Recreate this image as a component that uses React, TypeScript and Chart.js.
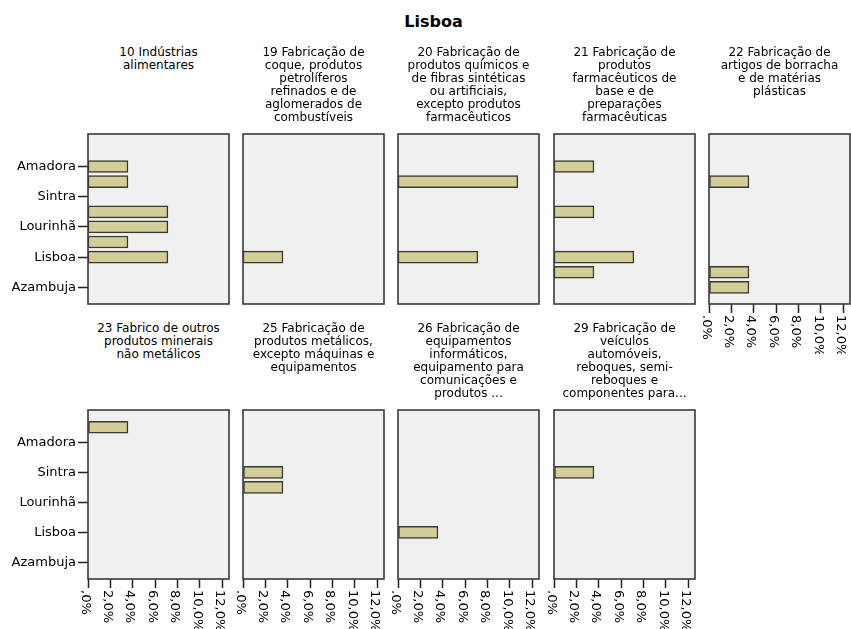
import React, { useEffect, useRef } from 'react';
import { Chart, registerables } from 'chart.js';

Chart.register(...registerables);

// ---------------- data ----------------
const MAIN_TITLE = 'Lisboa';

// municipalities on the vertical axis, listed top to bottom
const CONCELHOS = [
  'Odivelas',
  'Amadora',
  'Vila Franca de Xira',
  'Sintra',
  'Oeiras',
  'Lourinhã',
  'Loures',
  'Lisboa',
  'Cascais',
  'Azambuja',
];
// only every other municipality gets a visible label
const LABELED_IDX = [1, 3, 5, 7, 9];

const X_TICKS = [0, 2, 4, 6, 8, 10, 12];
const X_MAX = 12.6;

const SECTOR_TITLES = [
  '10 Indústrias\nalimentares',
  '19 Fabricação de\ncoque, produtos\npetrolíferos\nrefinados e de\naglomerados de\ncombustíveis',
  '20 Fabricação de\nprodutos químicos e\nde fibras sintéticas\nou artificiais,\nexcepto produtos\nfarmacêuticos',
  '21 Fabricação de\nprodutos\nfarmacêuticos de\nbase e de\npreparações\nfarmacêuticas',
  '22 Fabricação de\nartigos de borracha\ne de matérias\nplásticas',
  '23 Fabrico de outros\nprodutos minerais\nnão metálicos',
  '25 Fabricação de\nprodutos metálicos,\nexcepto máquinas e\nequipamentos',
  '26 Fabricação de\nequipamentos\ninformáticos,\nequipamento para\ncomunicações e\nprodutos ...',
  '29 Fabricação de\nveículos\nautomóveis,\nreboques, semi-\nreboques e\ncomponentes para...',
];

// percentages per municipality (same order as CONCELHOS)
const S10 = [0, 3.57, 3.57, 0, 7.14, 7.14, 3.57, 7.14, 0, 0];
const S19 = [0, 0, 0, 0, 0, 0, 0, 3.57, 0, 0];
const S20 = [0, 0, 10.71, 0, 0, 0, 0, 7.14, 0, 0];
const S21 = [0, 3.57, 0, 0, 3.57, 0, 0, 7.14, 3.57, 0];
const S22 = [0, 0, 3.57, 0, 0, 0, 0, 0, 3.57, 3.57];
const S23 = [3.57, 0, 0, 0, 0, 0, 0, 0, 0, 0];
const S25 = [0, 0, 0, 3.57, 3.57, 0, 0, 0, 0, 0];
const S26 = [0, 0, 0, 0, 0, 0, 0, 3.57, 0, 0];
const S29 = [0, 0, 0, 3.57, 0, 0, 0, 0, 0, 0];
const SECTOR_VALUES = [S10, S19, S20, S21, S22, S23, S25, S26, S29];

// ---------------- layout / style ----------------
const COL_LEFT = [88, 243, 398, 554, 709];
const PLOT_W = 141;
const ROW_TOP = [134, 410];
const ROW_H = [170, 169];
const TITLE_TOP = [46, 322];
const Y_MIN = -1.15;
const Y_MAX = 10.1;
const FONT = '"DejaVu Sans", sans-serif';
const BAR_FILL = '#d3ce97';
const BAR_EDGE = '#3a3a30';
const PLOT_BG = '#f0f0f0';
const FRAME = '#3a3a3a';

const fmtPct = (v: number) => (v === 0 ? ',0%' : v.toFixed(1).replace('.', ',') + '%');

const boxPlugin = {
  id: 'panelBox',
  beforeDraw(chart: any) {
    const { left, top, width, height } = chart.chartArea;
    const ctx = chart.ctx;
    ctx.save();
    ctx.fillStyle = PLOT_BG;
    ctx.fillRect(left, top, width, height);
    ctx.restore();
  },
  afterDatasetsDraw(chart: any) {
    const { left, top, width, height } = chart.chartArea;
    const ctx = chart.ctx;
    ctx.save();
    ctx.strokeStyle = FRAME;
    ctx.lineWidth = 1.6;
    ctx.strokeRect(left, top, width, height);
    ctx.restore();
  },
};

const xLabelPlugin = {
  id: 'xLabels',
  afterDraw(chart: any, _args: any, opts: any) {
    if (!opts || !opts.show) return;
    const sx = chart.scales.x;
    const ctx = chart.ctx;
    const y0 = chart.chartArea.bottom + 11;
    ctx.save();
    ctx.font = '13px ' + FONT;
    ctx.fillStyle = '#000';
    ctx.textAlign = 'left';
    ctx.textBaseline = 'middle';
    sx.ticks.forEach((t: any) => {
      const px = sx.getPixelForValue(t.value);
      ctx.save();
      ctx.translate(px - 3, y0);
      ctx.rotate(Math.PI / 2);
      ctx.fillText(fmtPct(t.value), 0, 0);
      ctx.restore();
    });
    ctx.restore();
  },
};

type PanelProps = { idx: number };

function Panel({ idx }: PanelProps) {
  const ref = useRef<HTMLCanvasElement | null>(null);
  const row = idx < 5 ? 0 : 1;
  const col = idx < 5 ? idx : idx - 5;
  const showX = row === 1 || col === 4;
  const showY = col === 0;
  const leftSpace = showY ? 88 : 6;
  const topSpace = 12;
  const bottomSpace = showX ? 50 : 12;
  const cw = leftSpace + PLOT_W + 6;
  const ch = topSpace + ROW_H[row] + bottomSpace;
  const cx = COL_LEFT[col] - leftSpace;
  const cy = ROW_TOP[row] - topSpace;

  useEffect(() => {
    if (!ref.current) return;
    const values = SECTOR_VALUES[idx];
    const points = values
      .map((v, i) => ({ x: v, y: i }))
      .filter((d) => d.x > 0);
    const chart = new Chart(ref.current, {
      type: 'bar',
      data: {
        datasets: [
          {
            data: points as any,
            backgroundColor: BAR_FILL,
            borderColor: BAR_EDGE,
            borderWidth: 1.5,
            borderSkipped: false,
            barThickness: 12,
          },
        ],
      },
      options: {
        indexAxis: 'y',
        animation: false,
        responsive: false,
        maintainAspectRatio: false,
        layout: {
          padding: { left: showY ? 0 : 6, right: 6, top: topSpace, bottom: showX ? 0 : 12 },
        },
        plugins: {
          legend: { display: false },
          tooltip: { enabled: false },
          title: { display: false },
          xLabels: { show: showX },
        } as any,
        scales: {
          x: {
            type: 'linear',
            min: 0,
            max: X_MAX,
            display: showX,
            offset: false,
            afterBuildTicks: (s: any) => {
              s.ticks = X_TICKS.map((v) => ({ value: v }));
            },
            afterFit: (s: any) => {
              if (showX) s.height = 50;
            },
            ticks: { display: false },
            grid: {
              offset: false,
              drawOnChartArea: false,
              drawTicks: true,
              tickLength: 9,
              tickWidth: 1.5,
              tickColor: '#222',
            },
            border: { display: false },
          },
          y: {
            type: 'linear',
            min: Y_MIN,
            max: Y_MAX,
            reverse: true,
            offset: false,
            display: showY,
            afterBuildTicks: (s: any) => {
              s.ticks = LABELED_IDX.map((v) => ({ value: v }));
            },
            afterFit: (s: any) => {
              if (showY) s.width = 88;
            },
            ticks: {
              autoSkip: false,
              callback: (v: any) => CONCELHOS[v as number],
              font: { family: FONT, size: 13 },
              color: '#000',
              padding: 2,
            },
            grid: {
              offset: false,
              drawOnChartArea: false,
              drawTicks: true,
              tickLength: 10,
              tickWidth: 1.5,
              tickColor: '#222',
            },
            border: { display: false },
          },
        },
      } as any,
      plugins: [boxPlugin, xLabelPlugin],
    });
    return () => chart.destroy();
  }, [idx]);

  return (
    <>
      <div
        style={{
          position: 'absolute',
          left: COL_LEFT[col] + PLOT_W / 2 - 85,
          top: TITLE_TOP[row],
          width: 170,
          textAlign: 'center',
          fontFamily: FONT,
          fontSize: 12,
          lineHeight: '13px',
          whiteSpace: 'pre',
          color: '#000',
        }}
      >
        {SECTOR_TITLES[idx]}
      </div>
      <canvas
        ref={ref}
        width={cw}
        height={ch}
        style={{ position: 'absolute', left: cx, top: cy, width: cw, height: ch }}
      />
    </>
  );
}

export default function App() {
  return (
    <div
      style={{
        position: 'absolute',
        left: 0,
        top: 0,
        width: 851,
        height: 629,
        background: '#fff',
        overflow: 'hidden',
      }}
    >
      <div
        style={{
          position: 'absolute',
          left: 333.5,
          top: 11.5,
          width: 200,
          textAlign: 'center',
          fontFamily: FONT,
          fontWeight: 'bold',
          fontSize: 16,
          lineHeight: '20px',
          color: '#000',
        }}
      >
        {MAIN_TITLE}
      </div>
      {SECTOR_TITLES.map((_, i) => (
        <Panel key={i} idx={i} />
      ))}
    </div>
  );
}
